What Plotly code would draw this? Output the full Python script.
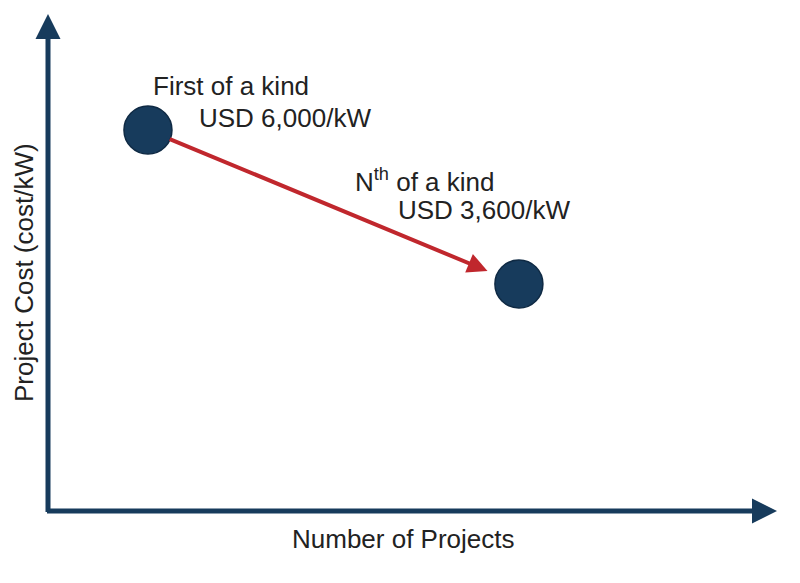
import plotly.graph_objects as go

# ---- data ----
stage = ["First of a kind", "Nth of a kind"]
projects = [1, 10]            # relative position along "Number of Projects"
cost = [6000, 3600]           # USD/kW
cost_labels = ["USD 6,000/kW", "USD 3,600/kW"]
stage_labels = ["First of a kind", "N<sup>th</sup> of a kind"]
x_title = "Number of Projects"
y_title = "Project Cost (cost/kW)"

W, H = 800, 583
NAVY = "#173b5c"
RED = "#c0272d"
TXT = "#222222"
FONT = "Liberation Sans, Arial, sans-serif"

def px(xp):
    return xp / W

def py(yp):
    return 1 - yp / H

fig = go.Figure()
fig.add_trace(go.Scatter(
    x=projects, y=cost, mode="markers",
    marker=dict(size=48, color=NAVY, line=dict(color="#0f2a44", width=1.5)),
    hoverinfo="skip", showlegend=False,
))

ann = []
# axis arrows
ann.append(dict(xref="paper", yref="paper", x=px(48), y=py(14), ax=0, ay=499.5,
                showarrow=True, arrowhead=2, arrowsize=1, arrowwidth=5,
                arrowcolor=NAVY, text=""))
ann.append(dict(xref="paper", yref="paper", x=px(777), y=py(511), ax=-731.5, ay=0,
                showarrow=True, arrowhead=2, arrowsize=1, arrowwidth=5,
                arrowcolor=NAVY, text=""))
# red learning arrow between the two points
ann.append(dict(xref="x", yref="y", x=projects[1], y=cost[1],
                axref="x", ayref="y", ax=projects[0], ay=cost[0],
                showarrow=True, arrowhead=2, arrowsize=1, arrowwidth=4,
                arrowcolor=RED, standoff=34, startstandoff=22, text=""))
# text labels
label_pos = [((151, 86), (197, 118)), ((353, 181), (396, 210))]
for i in range(2):
    (x1, y1), (x2, y2) = label_pos[i]
    ann.append(dict(xref="paper", yref="paper", x=px(x1), y=py(y1),
                    xanchor="left", yanchor="middle", showarrow=False,
                    text=stage_labels[i], font=dict(size=26, color=TXT, family=FONT)))
    ann.append(dict(xref="paper", yref="paper", x=px(x2), y=py(y2),
                    xanchor="left", yanchor="middle", showarrow=False,
                    text=cost_labels[i], font=dict(size=26, color=TXT, family=FONT)))
# axis titles
ann.append(dict(xref="paper", yref="paper", x=px(403), y=py(539),
                xanchor="center", yanchor="middle", showarrow=False,
                text=x_title, font=dict(size=26, color=TXT, family=FONT)))
ann.append(dict(xref="paper", yref="paper", x=px(24), y=py(273),
                xanchor="center", yanchor="middle", showarrow=False, textangle=-90,
                text=y_title, font=dict(size=26, color=TXT, family=FONT)))

fig.update_layout(
    width=W, height=H,
    margin=dict(l=0, r=0, t=0, b=0),
    paper_bgcolor="white", plot_bgcolor="white",
    xaxis=dict(visible=False, range=[-2.59, 16.82], fixedrange=True),
    yaxis=dict(visible=False, range=[-1059, 8026], fixedrange=True),
    annotations=ann,
    showlegend=False,
)

fig.write_html("out.html", config={"displayModeBar": False},
               post_script="document.body.style.margin='0';document.body.style.overflow='hidden';")
